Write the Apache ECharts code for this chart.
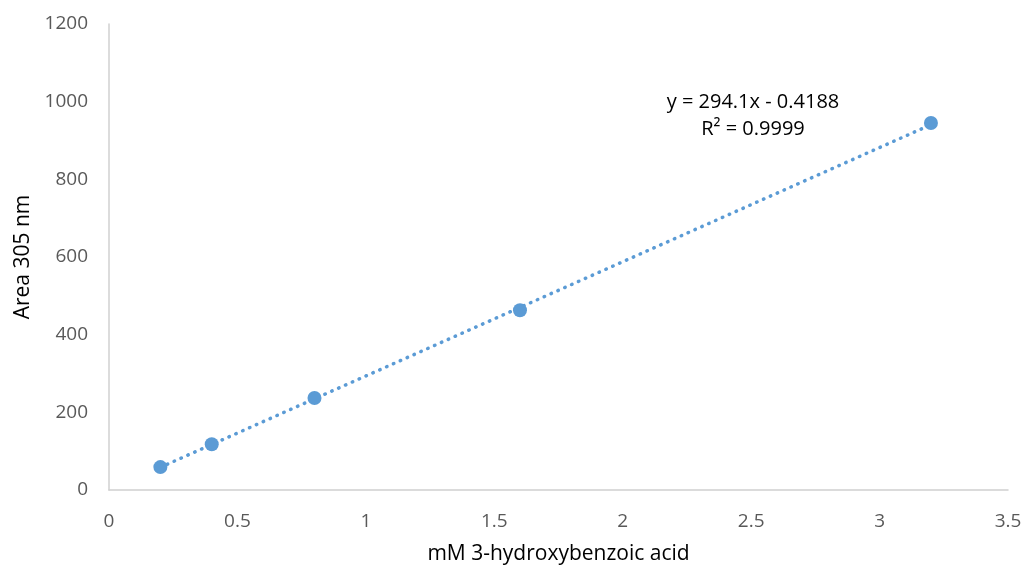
<!DOCTYPE html>
<html><head><meta charset="utf-8">
<script src="https://cdn.jsdelivr.net/npm/echarts@6/dist/echarts.min.js"></script>
<style>html,body{margin:0;padding:0;background:#fff}#c{width:1024px;height:568px}</style>
</head><body><div id="c"></div>
<script>
const concentrations = [0.2, 0.4, 0.8, 1.6, 3.2];
const areas = [59, 118, 237, 463, 945];
const slope = 294.1, intercept = -0.4188;
const trendX = [0.2, 3.2];
const equationText = 'y = 294.1x - 0.4188';
const r2Text = 'R² = 0.9999';
const xTitle = 'mM 3-hydroxybenzoic acid';
const yTitle = 'Area 305 nm';

const chart = echarts.init(document.getElementById('c'), null, {renderer: 'canvas'});
const font = '"Open Sans", "Liberation Sans", sans-serif';
chart.setOption({
  animation: false,
  backgroundColor: '#fff',
  grid: {left: 109, right: 16, top: 24, bottom: 78, containLabel: false, outerBoundsMode: 'none'},
  xAxis: {
    type: 'value', min: 0, max: 3.5, interval: 0.5,
    name: xTitle, nameLocation: 'middle', nameGap: 54,
    nameTextStyle: {color: '#000', fontSize: 21, fontFamily: font},
    axisLine: {show: true, lineStyle: {color: '#d0d0d0', width: 1.5}},
    axisTick: {show: false},
    splitLine: {show: false},
    axisLabel: {color: '#595959', fontSize: 19, fontFamily: font, margin: 22, formatter: v => String(v)}
  },
  yAxis: {
    type: 'value', min: 0, max: 1200, interval: 200,
    name: yTitle, nameLocation: 'middle', nameGap: 75,
    nameTextStyle: {color: '#000', fontSize: 21, fontFamily: font},
    axisLine: {show: true, lineStyle: {color: '#d0d0d0', width: 1.5}},
    axisTick: {show: false},
    splitLine: {show: false},
    axisLabel: {color: '#595959', fontSize: 19, fontFamily: font, margin: 21, formatter: v => String(v)}
  },
  series: [
    {
      type: 'line',
      data: trendX.map(x => [x, slope * x + intercept]),
      symbol: 'none',
      lineStyle: {color: '#5B9BD5', width: 3.5, type: [0.5, 7], cap: 'round'},
      silent: true, z: 1
    },
    {
      type: 'scatter',
      data: concentrations.map((x, i) => [x, areas[i]]),
      symbolSize: 14,
      itemStyle: {color: '#5B9BD5', opacity: 1},
      z: 2
    }
  ],
  graphic: [
    {type: 'text', x: 753, y: 102, style: {text: equationText, fill: '#000', font: '20px ' + font, textAlign: 'center', textVerticalAlign: 'middle'}},
    {type: 'text', x: 753, y: 129, style: {text: r2Text, fill: '#000', font: '20px ' + font, textAlign: 'center', textVerticalAlign: 'middle'}}
  ]
});
</script></body></html>
